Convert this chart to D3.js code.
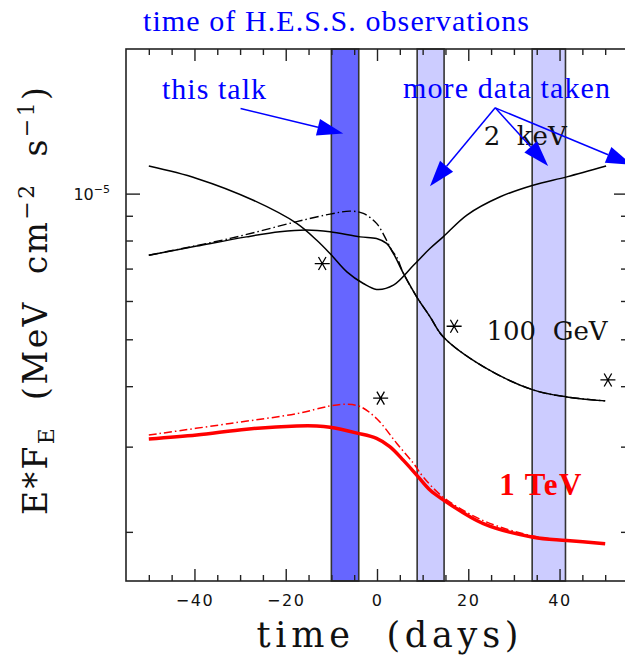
<!DOCTYPE html>
<html>
<head>
<meta charset="utf-8">
<script src="https://cdn.jsdelivr.net/npm/d3@7"></script>
<style>
body { margin: 0; background: #fff; }
text { white-space: pre; }
</style>
</head>
<body>
<script>
//light curves: time in days, E*F_E in MeV cm^-2 s^-1
var keV2Days = [-50, -39.5, -27.1, -17.6, -13.2, -10.3, -6.6, -3.0, -0.1, 3.6, 8.0, 11.6, 14.5, 19.7, 27.0, 34.2, 41.6, 50.2];
var keV2Flux = [1.14e-5, 1.075e-5, 9.69e-6, 8.68e-6, 8.01e-6, 7.52e-6, 6.89e-6, 6.52e-6, 6.34e-6, 6.47e-6, 7.11e-6, 7.70e-6, 8.14e-6, 9.03e-6, 9.85e-6, 1.041e-5, 1.083e-5, 1.14e-5];

var gevDays = [-50, -39.5, -28.6, -21.3, -15.4, -10.3, -3.7, -0.1, 2.1, 3.6, 5.8, 8.7, 11.6, 14.5, 23.3, 34.2, 41.6, 50];
var gevFlux = [7.46e-6, 7.79e-6, 8.14e-6, 8.34e-6, 8.41e-6, 8.34e-6, 8.14e-6, 8.08e-6, 7.89e-6, 7.52e-6, 6.84e-6, 6.12e-6, 5.57e-6, 5.06e-6, 4.39e-6, 3.93e-6, 3.80e-6, 3.73e-6];

var gevDashDays = [-50, -32.2, -17.6, -10.3, -5.9, -3.0, -0.1, 2.1, 3.2, 4.3, 5.8, 8.7, 11.6, 14.5, 23.3, 34.2, 41.6, 50];
var gevDashFlux = [7.46e-6, 8.08e-6, 8.75e-6, 9.07e-6, 9.20e-6, 9.10e-6, 8.68e-6, 8.01e-6, 7.64e-6, 7.40e-6, 6.84e-6, 6.12e-6, 5.57e-6, 5.06e-6, 4.39e-6, 3.93e-6, 3.80e-6, 3.73e-6];

var tevDays = [-50, -39.5, -28.6, -17.6, -13.2, -10.3, -4.4, -0.1, 2.8, 5.8, 8.7, 11.6, 14.5, 23.3, 34.2, 41.6, 50];
var tevFlux = [3.11e-6, 3.17e-6, 3.26e-6, 3.31e-6, 3.31e-6, 3.29e-6, 3.20e-6, 3.12e-6, 3.00e-6, 2.81e-6, 2.62e-6, 2.44e-6, 2.33e-6, 2.08e-6, 1.95e-6, 1.92e-6, 1.89e-6];

var tevDashDays = [-50, -32.2, -17.6, -10.3, -6.6, -3.7, -0.1, 4.3, 8.0, 10.1, 14.5, 23.3, 34.2, 41.6, 50];
var tevDashFlux = [3.17e-6, 3.35e-6, 3.51e-6, 3.64e-6, 3.67e-6, 3.63e-6, 3.43e-6, 3.05e-6, 2.77e-6, 2.60e-6, 2.36e-6, 2.11e-6, 1.96e-6, 1.92e-6, 1.89e-6];

//data points (asterisks)
var starDays = [-12, 0.8, 16.9, 50.6];
var starFlux = [7.17e-6, 3.78e-6, 5.32e-6, 4.12e-6];

//H.E.S.S. observation windows
var bandStart = [-10, 8.8, 34];
var bandEnd = [-4, 14.7, 41.3];
var bandColor = ["#6666ff", "#ccccff", "#ccccff"];

//ticks
var xMajor = [-40, -20, 0, 20, 40];
var xMinor = [-50, -45, -35, -30, -25, -15, -10, -5, 5, 10, 15, 25, 30, 35, 45, 50];
var yMajor = [1e-5];
var yMinor = [2e-6, 3e-6, 4e-6, 5e-6, 6e-6, 7e-6, 8e-6, 9e-6];

//arrows [fromDay, fromFlux, toDay, toFlux]
var talkArrow = [[-29.9, 1.5e-5, -7.4, 1.331e-5]];
var moreArrows = [[25.9, 1.504e-5, 11.6, 1.036e-5],
                  [25.9, 1.504e-5, 37.5, 1.14e-5],
                  [25.9, 1.504e-5, 55.9, 1.147e-5]];

(function(){

var width = 625, height = 656;
var plotLeft = 126, plotRight = 628, plotTop = 49, plotBottom = 581;

var svg = d3.select("body").append("svg")
    .attr("width", width)
    .attr("height", height);

var x = d3.scaleLinear().domain([-55, 55]).range([plotLeft, plotRight]);
var y = d3.scaleLog().domain([1.583e-6, 1.99e-5]).range([plotBottom, plotTop]);

//observation bands
svg.selectAll(".band")
    .data(bandStart)
    .enter()
    .append("rect")
    .attr("class", "band")
    .attr("x", function(d){ return x(d); })
    .attr("y", plotTop)
    .attr("width", function(d, i){ return x(bandEnd[i]) - x(d); })
    .attr("height", plotBottom - plotTop)
    .style("fill", function(d, i){ return bandColor[i]; })
    .style("stroke", "#333")
    .style("stroke-width", 1.6);

function zip(a, b){
    return a.map(function(d, i){ return [d, b[i]]; });
}

var line = d3.line()
    .x(function(d){ return x(d[0]); })
    .y(function(d){ return y(d[1]); })
    .curve(d3.curveCatmullRom.alpha(0.5));

function drawCurve(days, flux, color, w, dash){
    svg.append("path")
        .datum(zip(days, flux))
        .attr("d", line)
        .style("fill", "none")
        .style("stroke", color)
        .style("stroke-width", w)
        .style("stroke-dasharray", dash || null);
}

drawCurve(gevDashDays, gevDashFlux, "#000", 1.4, "9,3,1.5,3");
drawCurve(gevDays, gevFlux, "#000", 1.5);
drawCurve(keV2Days, keV2Flux, "#000", 1.5);
drawCurve(tevDashDays, tevDashFlux, "#ff0000", 1.5, "8,3,1.5,3");
drawCurve(tevDays, tevFlux, "#ff0000", 3.5);

//asterisks
svg.selectAll(".star")
    .data(zip(starDays, starFlux))
    .enter()
    .append("path")
    .attr("class", "star")
    .attr("transform", function(d){ return "translate(" + x(d[0]) + "," + y(d[1]) + ")"; })
    .attr("d", "M-7.5,0L7.5,0M-3.75,-6.5L3.75,6.5M-3.75,6.5L3.75,-6.5")
    .style("stroke", "#000")
    .style("stroke-width", 1.3);

//axes with inward ticks
function noLabel(){ return ""; }

svg.append("g").attr("transform", "translate(0," + plotBottom + ")")
    .call(d3.axisBottom(x).tickValues(xMajor).tickSize(-12).tickPadding(14)
        .tickFormat(function(d){ return d < 0 ? "\u2212" + Math.abs(d) : d; }));
svg.append("g").attr("transform", "translate(0," + plotBottom + ")")
    .call(d3.axisBottom(x).tickValues(xMinor).tickSize(-6).tickFormat(noLabel));
svg.append("g").attr("transform", "translate(0," + plotTop + ")")
    .call(d3.axisTop(x).tickValues(xMajor).tickSize(-12).tickFormat(noLabel));
svg.append("g").attr("transform", "translate(0," + plotTop + ")")
    .call(d3.axisTop(x).tickValues(xMinor).tickSize(-6).tickFormat(noLabel));
svg.append("g").attr("transform", "translate(" + plotLeft + ",0)")
    .call(d3.axisLeft(y).tickValues(yMajor).tickSize(-14).tickFormat(noLabel));
svg.append("g").attr("transform", "translate(" + plotLeft + ",0)")
    .call(d3.axisLeft(y).tickValues(yMinor).tickSize(-7).tickFormat(noLabel));
svg.append("g").attr("transform", "translate(" + plotRight + ",0)")
    .call(d3.axisRight(y).tickValues(yMajor).tickSize(-14).tickFormat(noLabel));
svg.append("g").attr("transform", "translate(" + plotRight + ",0)")
    .call(d3.axisRight(y).tickValues(yMinor).tickSize(-7).tickFormat(noLabel));

svg.selectAll(".domain").remove();
svg.selectAll(".tick line").style("stroke", "#222").style("stroke-width", 1.4);
svg.selectAll(".tick text")
    .style("font-family", "DejaVu Sans")
    .style("font-size", "16px")
    .style("letter-spacing", "1.5px")
    .style("fill", "#111");

//frame
svg.append("rect")
    .attr("x", plotLeft).attr("y", plotTop)
    .attr("width", plotRight - plotLeft).attr("height", plotBottom - plotTop)
    .style("fill", "none")
    .style("stroke", "#222")
    .style("stroke-width", 1.6);

//10^-5 label
var yTick = svg.append("text")
    .attr("x", 110).attr("y", y(1e-5) + 6)
    .attr("text-anchor", "end")
    .style("font-family", "DejaVu Sans")
    .style("fill", "#111");
yTick.append("tspan").style("font-size", "16px").text("10");
yTick.append("tspan").attr("dy", -7).style("font-size", "11px").text("\u22125");

//axis titles
svg.append("text")
    .attr("x", 387.5).attr("y", 647)
    .attr("text-anchor", "middle")
    .attr("textLength", 262)
    .style("font-family", "DejaVu Serif")
    .style("font-size", "35px")
    .style("fill", "#111")
    .text("time  (days)");

var yTitle = svg.append("text")
    .attr("transform", "translate(47,301) rotate(-90)")
    .attr("text-anchor", "middle")
    .attr("textLength", 428)
    .style("font-family", "DejaVu Serif")
    .style("font-size", "33px")
    .style("fill", "#111");
yTitle.append("tspan").text("E*F");
yTitle.append("tspan").attr("dy", 7).style("font-size", "22px").text("E");
yTitle.append("tspan").attr("dy", -7).text("  (MeV  cm");
yTitle.append("tspan").attr("dy", -13).style("font-size", "22px").text("\u22122");
yTitle.append("tspan").attr("dy", 13).text("  s");
yTitle.append("tspan").attr("dy", -13).style("font-size", "22px").text("\u22121");
yTitle.append("tspan").attr("dy", 13).text(")");

//curve labels, widened with letter-spacing to the width they have in the picture
function fitLabel(str, day, flux, targetWidth){
    var t = svg.append("text")
        .attr("x", x(day)).attr("y", y(flux))
        .style("font-family", "DejaVu Serif").style("font-size", "26px").style("fill", "#111")
        .text(str);
    var natural = t.node().getComputedTextLength();
    var extra = (targetWidth - natural) / (str.length - 1);
    if (extra > 0) t.style("letter-spacing", extra + "px");
}
fitLabel("2  keV", 23.4, 1.26e-5, 83);
fitLabel("100  GeV", 24.0, 4.98e-6, 118);

svg.append("text")
    .attr("x", x(26.8)).attr("y", y(2.38e-6))
    .attr("textLength", 82)
    .style("font-family", "Liberation Serif").style("font-size", "31px")
    .style("font-weight", "bold").style("fill", "#ff0000")
    .text("1 TeV");

//blue annotations
function blueText(str, px, py, len){
    svg.append("text")
        .attr("x", px).attr("y", py)
        .attr("textLength", len)
        .style("font-family", "Liberation Serif")
        .style("font-size", "30px")
        .style("fill", "#0000ff")
        .text(str);
}
blueText("time of H.E.S.S. observations", 143, 31, 386);
blueText("this talk", 162, 99, 104);
blueText("more data taken", 403, 98, 207);

function drawArrows(arr){
    arr.forEach(function(a){
        var x0 = x(a[0]), y0 = y(a[1]), x1 = x(a[2]), y1 = y(a[3]);
        var ang = Math.atan2(y1 - y0, x1 - x0);
        var len = 26, hw = 8.5;
        var bx = x1 - len * Math.cos(ang), by = y1 - len * Math.sin(ang);
        svg.append("line")
            .attr("x1", x0).attr("y1", y0)
            .attr("x2", bx).attr("y2", by)
            .style("stroke", "#0000ff")
            .style("stroke-width", 1.5);
        svg.append("path")
            .attr("d", "M" + x1 + "," + y1 +
                "L" + (bx + hw * Math.sin(ang)) + "," + (by - hw * Math.cos(ang)) +
                "L" + (bx - hw * Math.sin(ang)) + "," + (by + hw * Math.cos(ang)) + "Z")
            .style("fill", "#0000ff");
    });
}
drawArrows(talkArrow);
drawArrows(moreArrows);

})();
</script>
</body>
</html>
